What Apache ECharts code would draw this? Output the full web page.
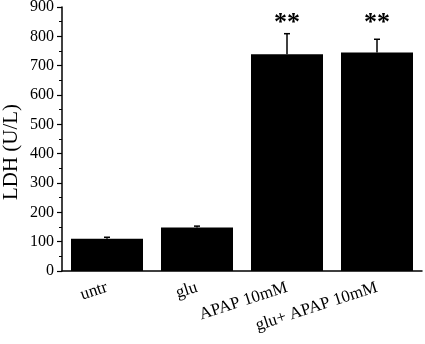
<!DOCTYPE html>
<html>
<head>
<meta charset="UTF-8">
<title>LDH</title>
<script src="https://cdn.jsdelivr.net/npm/echarts@6/dist/echarts.min.js"></script>
<style>
  html, body { margin: 0; padding: 0; background: #fff; }
  #main { width: 425px; height: 344px; }
</style>
</head>
<body>
<div id="main"></div>
<script type="text/javascript">
// data
var groups = ['untr', 'glu', 'APAP 10mM', 'glu+ APAP 10mM'];
var ldh = [110, 148, 739, 745];
var ldhErr = [5, 5, 70, 45];
var marks = ['', '', '**', '**'];
var yTicks = [0, 100, 200, 300, 400, 500, 600, 700, 800, 900];

var serif = '"Liberation Serif", "Times New Roman", serif';
var myChart = echarts.init(document.getElementById('main'));

var errData = [];
for (var i = 0; i < groups.length; i++) {
    errData.push([i, ldh[i], ldhErr[i], marks[i]]);
}

var option = {
    animation: false,
    grid: { left: 62, right: 3, top: 7, bottom: 73, containLabel: false, outerBoundsMode: 'none' },
    xAxis: [{
        type: 'category',
        data: groups,
        axisLine: { lineStyle: { color: '#000', width: 1.5 } },
        axisTick: { alignWithLabel: true, length: 6, lineStyle: { color: '#000', width: 1.2 } },
        axisLabel: {
            rotate: 18, margin: 16, interval: 0,
            color: '#000', fontFamily: serif, fontSize: 17
        }
    }, {
        // short ticks between the groups
        type: 'category',
        data: groups,
        position: 'bottom',
        axisLine: { show: false },
        axisTick: { length: 3, lineStyle: { color: '#000', width: 1.2 } },
        axisLabel: { show: false }
    }],
    yAxis: {
        type: 'value',
        min: yTicks[0],
        max: yTicks[yTicks.length - 1],
        interval: 100,
        name: 'LDH (U/L)',
        nameLocation: 'middle',
        nameGap: 40,
        nameMoveOverlap: false,
        nameTextStyle: { color: '#000', fontFamily: serif, fontSize: 21, padding: [0, 26, 0, 0] },
        axisLine: { show: true, lineStyle: { color: '#000', width: 1.5 } },
        axisTick: { show: true, length: 5, lineStyle: { color: '#000', width: 1.2 } },
        minorTick: { show: true, splitNumber: 2, length: 3, lineStyle: { color: '#000', width: 1 } },
        splitLine: { show: false },
        axisLabel: { margin: 8, color: '#000', fontFamily: serif, fontSize: 16 }
    },
    series: [{
        type: 'bar',
        data: ldh,
        barWidth: '80%',
        itemStyle: { color: '#000' }
    }, {
        type: 'custom',
        data: errData,
        z: 5,
        renderItem: function (params, api) {
            var x = api.value(0);
            var base = api.coord([x, api.value(1)]);
            var top = api.coord([x, api.value(1) + api.value(2)]);
            var star = api.coord([x, 845]);
            var children = [{
                type: 'line',
                shape: { x1: base[0], y1: base[1], x2: top[0], y2: top[1] },
                style: { stroke: '#000', lineWidth: 1.5 }
            }, {
                type: 'line',
                shape: { x1: top[0] - 3, y1: top[1], x2: top[0] + 3, y2: top[1] },
                style: { stroke: '#000', lineWidth: 1.5 }
            }];
            var txt = errData[params.dataIndex][3];
            if (txt) {
                children.push({
                    type: 'text',
                    x: star[0], y: star[1],
                    style: {
                        text: txt, fill: '#000',
                        font: 'bold 26px ' + serif,
                        align: 'center', verticalAlign: 'middle'
                    }
                });
            }
            return { type: 'group', children: children };
        }
    }]
};

myChart.setOption(option);
</script>
</body>
</html>
